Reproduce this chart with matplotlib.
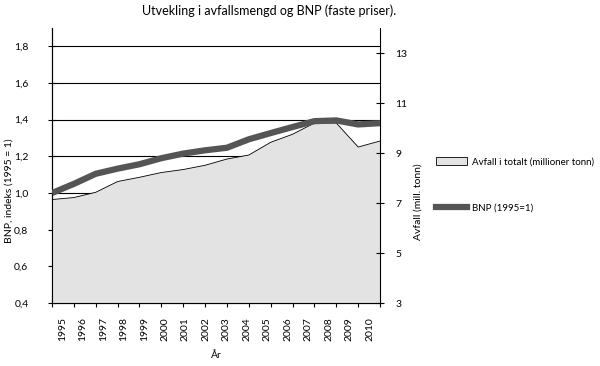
import matplotlib
matplotlib.use("Agg")
import matplotlib.pyplot as plt
from matplotlib.patches import Patch
from matplotlib.lines import Line2D

plt.rcParams['font.family'] = ['Lato', 'DejaVu Sans']

# data
years = [1995, 1996, 1997, 1998, 1999, 2000, 2001, 2002,
         2003, 2004, 2005, 2006, 2007, 2008, 2009, 2010]
avfall = [7.14, 7.22, 7.43, 7.86, 8.03, 8.22, 8.34, 8.51,
          8.76, 8.92, 9.43, 9.75, 10.2, 10.2, 9.24, 9.48]
bnp = [1.00, 1.05, 1.105, 1.133, 1.157, 1.19, 1.215, 1.233,
       1.247, 1.293, 1.327, 1.36, 1.392, 1.396, 1.374, 1.381]
left_ticks = [0.4, 0.6, 0.8, 1.0, 1.2, 1.4, 1.6, 1.8]
right_ticks = [3, 5, 7, 9, 11, 13]

fig = plt.figure(figsize=(6, 3.66), dpi=100)
ax = fig.add_axes([0.0867, 0.172, 0.5467, 0.7515])
idx = list(range(len(years)))

# left axis: BNP scale + grid
ax.set_xlim(0, len(years) - 1)
ax.set_ylim(0.4, 1.9)
ax.set_yticks(left_ticks)
ax.set_yticklabels([f"{t:.1f}".replace(".", ",") for t in left_ticks], fontsize=7.5)
for t in left_ticks[1:]:
    ax.axhline(t, color="black", lw=0.8, zorder=0)
ax.spines["top"].set_visible(False)
ax.spines["right"].set_visible(False)
ax.tick_params(axis="y", direction="inout", length=6, width=0.8, pad=14)
ax.set_xticks(idx)
ax.set_xticklabels([])
ax.tick_params(axis="x", direction="inout", length=6, width=0.8)
# category labels centred in 16 bins
n = len(years)
ax.set_xticks([(i + 0.5) * (n - 1) / n for i in idx], minor=True)
ax.set_xticklabels([str(y) for y in years], minor=True, rotation=90, fontsize=7.5)
ax.tick_params(axis="x", which="minor", length=0, pad=10)

# right axis: waste area
ax2 = ax.twinx()
ax2.set_ylim(3, 14)
ax2.set_yticks(right_ticks)
ax2.set_yticklabels([str(t) for t in right_ticks], fontsize=7.5)
ax2.tick_params(axis="y", direction="inout", length=6, width=0.8, pad=8)
ax2.fill_between(idx, avfall, 3, facecolor="#e3e3e3", edgecolor="none")
ax2.plot(idx, avfall, color="black", lw=0.6)
ax2.spines["top"].set_visible(False)

# BNP line on top
ax3 = ax.twinx()
ax3.set_ylim(0.4, 1.9)
ax3.axis("off")
ax3.plot(idx, bnp, color="#555555", lw=4.5, solid_capstyle="butt")

fig.text(0.449, 0.972, "Utvekling i avfallsmengd og BNP (faste priser).",
         ha="center", va="center", fontsize=9)
fig.text(0.015, 0.48, "BNP, indeks (1995 = 1)", rotation=90,
         ha="center", va="center", fontsize=7.5)
fig.text(0.697, 0.448, "Avfall (mill. tonn)", rotation=90,
         ha="center", va="center", fontsize=7.5)
fig.text(0.36, 0.03, "År", ha="center", va="center", fontsize=7.5)

handles = [Patch(facecolor="#e3e3e3", edgecolor="black", lw=0.6),
           Line2D([0], [0], color="#555555", lw=4.5)]
fig.legend(handles, ["Avfall i totalt (millioner tonn)", "BNP (1995=1)"],
           loc="upper left", bbox_to_anchor=(0.712, 0.595), frameon=False,
           fontsize=7, labelspacing=3.8, handlelength=3.2,
           handleheight=0.9, handletextpad=0.5)

fig.savefig("out.png", dpi=100)
